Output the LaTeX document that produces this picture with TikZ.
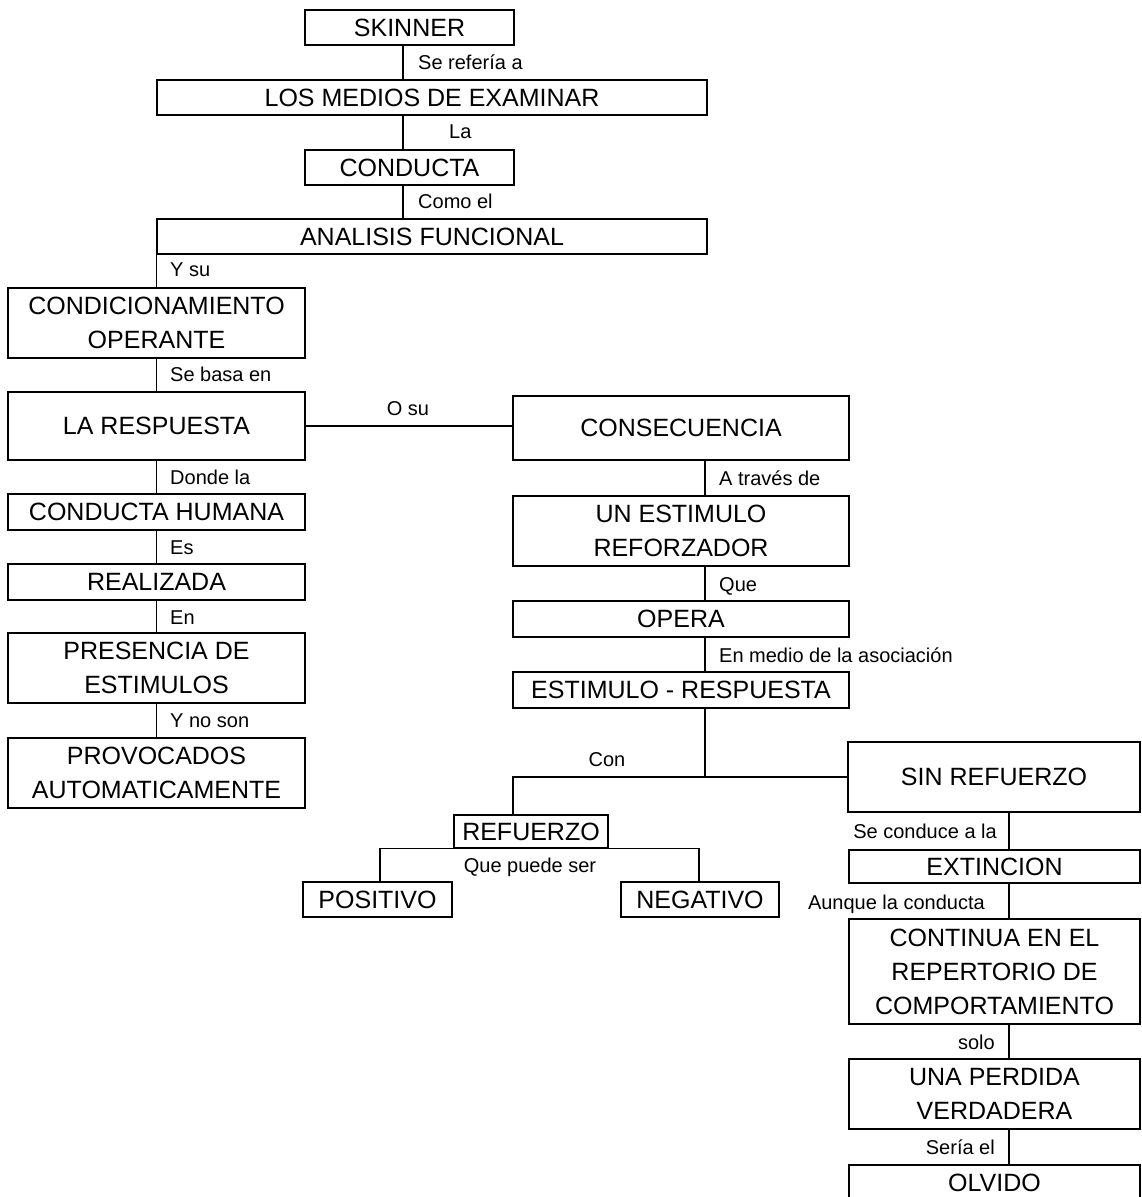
\documentclass[tikz,border=0pt]{standalone}
\usepackage{fontspec}
\setmainfont{Liberation Sans}
\begin{document}
\begin{tikzpicture}[x=1pt,y=-1pt,
  box/.style={draw, line width=1.3pt, inner sep=0pt, align=center, font=\fontsize{25}{34}\selectfont},
  lbl/.style={inner sep=0pt, text height=14.3pt, text depth=0pt, font=\fontsize{20}{24}\selectfont},
  conn/.style={line width=1.3pt}]
\useasboundingbox (0,0) rectangle (1142,1197);
\clip (0,0) rectangle (1142,1197);
% ---- boxes ----
\node[box, minimum width=209pt, minimum height=35pt] (skinner) at (409.5,27.5) {SKINNER};
\node[box, minimum width=550pt, minimum height=35pt] (medios) at (432,97.5) {LOS MEDIOS DE EXAMINAR};
\node[box, minimum width=209pt, minimum height=35pt] (conducta) at (409.5,167.5) {CONDUCTA};
\node[box, minimum width=550pt, minimum height=35pt] (analisis) at (432,236.5) {ANALISIS FUNCIONAL};
\node[box, minimum width=297pt, minimum height=70pt] (condic) at (156.5,323) {CONDICIONAMIENTO\\OPERANTE};
\node[box, minimum width=297pt, minimum height=68pt] (respuesta) at (156.5,426) {LA RESPUESTA};
\node[box, minimum width=336pt, minimum height=64pt] (consec) at (681,428) {CONSECUENCIA};
\node[box, minimum width=297pt, minimum height=36pt] (humana) at (156.5,512) {CONDUCTA HUMANA};
\node[box, minimum width=297pt, minimum height=36pt] (realizada) at (156.5,582) {REALIZADA};
\node[box, minimum width=297pt, minimum height=70pt] (presencia) at (156.5,668) {PRESENCIA DE\\ESTIMULOS};
\node[box, minimum width=297pt, minimum height=70pt] (provocados) at (156.5,773) {PROVOCADOS\\AUTOMATICAMENTE};
\node[box, minimum width=336pt, minimum height=70pt] (estimulo) at (681,531) {UN ESTIMULO\\REFORZADOR};
\node[box, minimum width=336pt, minimum height=36pt] (opera) at (681,619) {OPERA};
\node[box, minimum width=336pt, minimum height=36pt] (er) at (681,690) {ESTIMULO - RESPUESTA};
\node[box, minimum width=154pt, minimum height=33pt] (refuerzo) at (531,831.5) {REFUERZO};
\node[box, minimum width=149pt, minimum height=35pt] (positivo) at (377.5,899.5) {POSITIVO};
\node[box, minimum width=158pt, minimum height=35pt] (negativo) at (700,899.5) {NEGATIVO};
\node[box, minimum width=292pt, minimum height=70pt] (sinref) at (994,777) {SIN REFUERZO};
\node[box, minimum width=291pt, minimum height=33pt] (extincion) at (994.5,866.5) {EXTINCION};
\node[box, minimum width=291pt, minimum height=105pt] (continua) at (994.5,971.5) {CONTINUA EN EL\\REPERTORIO DE\\COMPORTAMIENTO};
\node[box, minimum width=291pt, minimum height=70pt] (perdida) at (994.5,1094) {UNA PERDIDA\\VERDADERA};
\node[box, minimum width=291pt, minimum height=36pt] (olvido) at (994.5,1183) {OLVIDO};
% ---- guide coordinates ----
\coordinate (cx1) at (403,0);
\coordinate (cx2) at (705,0);
\coordinate (j1) at (705,777);
\coordinate (jl) at (513,777);
\coordinate (cx3) at (380,0);
\coordinate (cx4) at (699,0);
\coordinate (cx5) at (1009,0);
% ---- connectors ----
\draw[conn] (skinner.south -| cx1) -- (medios.north -| cx1);
\draw[conn] (medios.south -| cx1) -- (conducta.north -| cx1);
\draw[conn] (conducta.south -| cx1) -- (analisis.north -| cx1);
\draw[conn] (analisis.south west) -- (condic.north -| analisis.south west);
\draw[conn] (condic.south) -- (respuesta.north);
\draw[conn] (respuesta.east) -- (respuesta.east -| consec.west);
\draw[conn] (respuesta.south) -- (humana.north);
\draw[conn] (humana.south) -- (realizada.north);
\draw[conn] (realizada.south) -- (presencia.north);
\draw[conn] (presencia.south) -- (provocados.north);
\draw[conn] (consec.south -| cx2) -- (estimulo.north -| cx2);
\draw[conn] (estimulo.south -| cx2) -- (opera.north -| cx2);
\draw[conn] (opera.south -| cx2) -- (er.north -| cx2);
\draw[conn] (er.south -| cx2) -- (j1);
\draw[conn] (refuerzo.north -| jl) -- (jl) -- (sinref.west);
\draw[conn] (positivo.north -| cx3) -- (cx3 |- refuerzo.south) -- (cx4 |- refuerzo.south) -- (negativo.north -| cx4);
\draw[conn] (sinref.south -| cx5) -- (extincion.north -| cx5);
\draw[conn] (extincion.south -| cx5) -- (continua.north -| cx5);
\draw[conn] (continua.south -| cx5) -- (perdida.north -| cx5);
\draw[conn] (perdida.south -| cx5) -- (olvido.north -| cx5);
% ---- labels ----
\node[lbl, anchor=west] (l1) at (418,62) {Se refería a};
\node[lbl, anchor=west] (l2) at (449,131) {La};
\node[lbl, anchor=west] (l3) at (418,201) {Como el};
\node[lbl, anchor=west] (l4) at (170,269) {Y su};
\node[lbl, anchor=west] (l5) at (170,374) {Se basa en};
\node[lbl] (l6) at (408,408) {O su};
\node[lbl, anchor=west] (l7) at (170,477) {Donde la};
\node[lbl, anchor=west] (l8) at (170,547) {Es};
\node[lbl, anchor=west] (l9) at (170,617) {En};
\node[lbl, anchor=west] (l10) at (170,720) {Y no son};
\node[lbl, anchor=west] (l11) at (719,478) {A través de};
\node[lbl, anchor=west] (l12) at (719,584) {Que};
\node[lbl, anchor=west] (l13) at (719,655) {En medio de la asociación};
\node[lbl] (l14) at (607,759) {Con};
\node[lbl] (l15) at (530,865) {Que puede ser};
\node[lbl, anchor=east] (l16) at (997,831) {Se conduce a la};
\node[lbl, anchor=east] (l17) at (985,902) {Aunque la conducta};
\node[lbl, anchor=east] (l18) at (995,1042) {solo};
\node[lbl, anchor=east] (l19) at (995,1147) {Sería el};
\end{tikzpicture}
\end{document}
